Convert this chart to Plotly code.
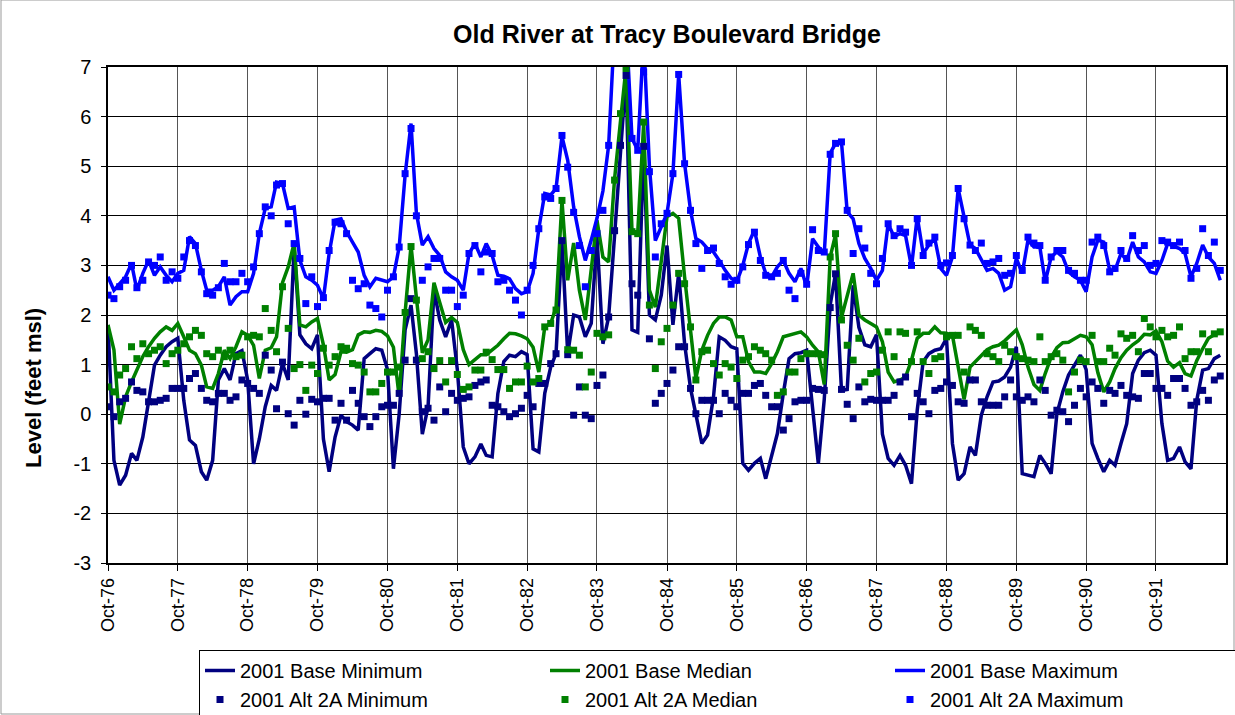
import pandas as pd
import plotly.graph_objects as go

# ---------------- data (monthly, Oct-1976 .. Sep-1992) ----------------
base_max = [
    2.77, 2.50, 2.63, 2.77, 3.04, 2.50, 2.84, 3.10, 2.80, 2.97, 2.80, 2.67,
    2.84, 2.90, 3.58, 3.44, 2.90, 2.50, 2.50, 2.57, 2.77, 2.20, 2.37, 2.47,
    2.47, 2.84, 3.64, 4.15, 4.18, 4.68, 4.65, 4.15, 4.18, 3.10, 2.77, 2.70,
    2.60, 2.33, 3.24, 3.91, 3.94, 3.68, 3.47, 3.27, 2.80, 2.57, 2.74, 2.70,
    2.67, 2.77, 3.37, 4.82, 5.86, 4.05, 3.41, 3.58, 3.34, 3.20, 2.87, 2.77,
    2.70, 2.50, 3.24, 3.44, 3.17, 3.44, 3.20, 2.80, 2.78, 2.73, 2.53, 2.43,
    2.47, 2.84, 3.74, 4.45, 4.42, 4.55, 5.60, 5.12, 4.18, 3.58, 3.10, 3.51,
    3.95, 4.50, 5.42, 7.80, 8.50, 7.90, 5.56, 5.32, 7.60, 5.00, 3.50, 3.78,
    4.05, 4.85, 6.85, 5.05, 4.11, 3.54, 3.47, 3.34, 3.27, 3.10, 2.90, 2.74,
    2.67, 3.00, 3.44, 3.71, 3.17, 2.84, 2.77, 2.97, 3.10, 2.84, 2.67, 2.94,
    2.57, 3.54, 3.37, 3.24, 5.26, 5.46, 5.49, 4.08, 3.94, 3.44, 3.14, 2.94,
    2.70, 2.90, 3.84, 3.58, 3.64, 3.60, 2.97, 3.98, 3.24, 3.41, 3.54, 2.94,
    2.80, 3.17, 4.55, 3.98, 3.41, 3.34, 3.10, 2.90, 2.94, 2.84, 2.50, 2.57,
    3.14, 2.84, 3.51, 3.37, 3.37, 2.67, 3.17, 3.27, 3.17, 2.87, 2.77, 2.70,
    2.47, 3.17, 3.51, 3.47, 2.90, 2.90, 3.24, 3.10, 3.47, 3.17, 3.07, 2.87,
    2.84, 3.10, 3.44, 3.39, 3.34, 3.24, 2.77, 3.04, 3.41, 3.17, 3.04, 2.70,
]

alt_max = [
    2.40, 2.33, 2.57, 2.70, 3.00, 2.55, 2.70, 3.07, 3.00, 3.17, 2.70, 2.87,
    2.74, 3.17, 3.50, 3.40, 2.87, 2.43, 2.40, 2.55, 3.04, 2.67, 2.67, 2.84,
    2.67, 2.97, 3.64, 4.18, 4.00, 4.62, 4.65, 3.84, 3.44, 3.14, 2.23, 2.77,
    2.17, 2.35, 3.30, 3.87, 3.84, 3.64, 2.70, 2.53, 2.63, 2.20, 2.13, 1.96,
    2.50, 2.77, 3.37, 4.85, 5.76, 4.00, 2.70, 2.97, 3.14, 3.14, 2.50, 2.50,
    2.17, 2.40, 3.24, 3.40, 2.87, 3.27, 3.24, 2.67, 2.70, 2.50, 2.30, 2.00,
    2.50, 3.00, 3.74, 4.38, 4.35, 4.55, 5.62, 4.98, 4.07, 3.40, 2.57, 3.30,
    3.64, 4.11, 5.42, 7.60, 8.00, 7.50, 5.56, 5.32, 6.90, 4.89, 3.17, 3.84,
    4.05, 4.85, 6.85, 5.05, 4.11, 3.44, 2.94, 3.30, 3.35, 3.04, 2.77, 2.62,
    2.70, 2.97, 3.42, 3.67, 3.10, 2.80, 2.77, 2.84, 3.10, 2.50, 2.33, 2.84,
    2.62, 3.72, 3.30, 3.27, 5.24, 5.46, 5.49, 4.11, 3.24, 3.74, 3.35, 2.84,
    2.63, 3.14, 3.84, 3.60, 3.74, 3.67, 3.00, 3.94, 3.20, 3.45, 3.57, 3.00,
    3.05, 3.20, 4.55, 3.94, 3.41, 3.30, 3.45, 3.04, 3.07, 3.14, 2.80, 2.84,
    3.20, 2.90, 3.57, 3.45, 3.40, 2.70, 3.17, 3.30, 3.30, 2.90, 2.84, 2.70,
    2.70, 3.47, 3.57, 3.40, 2.87, 2.94, 3.30, 3.14, 3.60, 3.30, 3.40, 3.00,
    3.04, 3.50, 3.47, 3.40, 3.47, 3.30, 2.74, 2.94, 3.74, 3.20, 3.47, 2.90,
]

base_min = [
    1.80, -0.93, -1.43, -1.23, -0.79, -0.93, -0.46, 0.28, 0.99, 1.19, 1.36, 1.46,
    1.53, 0.28, -0.52, -0.63, -1.16, -1.33, -0.93, 0.69, 0.92, 0.69, 1.22, 1.28,
    0.69, -1.00, -0.50, 0.15, 0.58, 0.48, 1.02, 0.69, 3.37, 1.60, 1.42, 1.32,
    1.60, -0.50, -1.16, -0.46, -0.02, -0.15, -0.22, -0.32, 1.12, 1.22, 1.32, 1.29,
    0.90, -1.10, 0.00, 1.70, 2.20, 1.22, -0.40, 0.15, 2.50, 1.90, 1.56, 1.90,
    0.90, -0.66, -1.00, -0.86, -0.60, -0.83, -0.86, 0.42, 1.06, 1.19, 1.16, 1.26,
    1.20, -0.70, -0.76, 0.42, 0.95, 1.22, 3.50, 1.22, 2.00, 1.96, 1.56, 1.83,
    3.58, 1.42, 1.96, 3.60, 5.40, 6.85, 1.70, 1.65, 5.40, 2.00, 1.90, 2.40,
    3.40, 1.80, 2.84, 1.42, 0.52, -0.02, -0.59, -0.42, 0.35, 1.56, 1.49, 1.36,
    1.32, -0.99, -1.13, -0.99, -0.89, -1.30, -0.86, -0.39, 0.42, 1.12, 1.22, 1.24,
    1.29, 0.08, -1.00, 0.30, 2.20, 2.84, 0.48, 0.50, 2.60, 1.75, 1.40, 1.36,
    1.60, -0.40, -0.89, -1.03, -0.83, -1.03, -1.40, 0.08, 1.06, 1.22, 1.29, 1.32,
    1.53, -0.59, -1.33, -1.20, -0.66, -0.83, -0.02, 0.35, 0.65, 0.67, 0.75, 0.95,
    1.36, -1.20, -1.23, -1.26, -0.83, -0.99, -1.20, 0.01, 0.45, 0.79, 0.99, 1.19,
    0.90, -0.59, -0.89, -1.16, -0.93, -1.03, -0.59, -0.19, 0.82, 1.09, 1.24, 1.29,
    1.19, -0.19, -0.93, -0.89, -0.66, -0.96, -1.10, 0.28, 0.89, 0.92, 1.12, 1.19,
]

alt_min = [
    0.15, -0.05, 0.25, 0.32, 0.65, 0.48, 0.45, 0.25, 0.25, 0.28, 0.32, 0.52,
    0.52, 0.52, 0.72, 0.82, 0.52, 0.28, 0.25, 0.42, 0.42, 0.28, 0.35, 0.69,
    0.62, 0.52, 0.42, 1.19, 0.89, 0.11, 1.05, 0.01, -0.22, 0.28, 0.00, 0.30,
    0.25, 0.32, 0.32, -0.12, 0.22, -0.12, 0.48, 0.22, -0.05, -0.25, -0.05, 0.15,
    0.18, 0.18, 0.42, 1.09, 2.33, 1.09, 0.05, 0.12, -0.12, 0.55, 0.05, 0.42,
    0.28, 0.32, 0.35, 0.58, 0.65, 0.69, 0.18, 0.15, 0.05, -0.05, 0.01, 0.12,
    0.38, 0.15, 0.62, 0.62, 1.02, 1.22, 3.50, 1.20, -0.02, 0.55, -0.02, -0.09,
    0.58, 0.79, 1.96, 3.70, 5.42, 6.83, 2.63, 2.40, 5.40, 1.52, 0.22, 0.42,
    0.62, 0.89, 1.36, 1.36, 0.52, 0.01, 0.28, 0.28, 0.28, 0.01, 0.42, 0.28,
    0.15, 0.42, 0.42, 0.58, 0.62, 0.38, 0.15, 0.15, -0.32, -0.09, 0.25, 0.28,
    0.28, 0.52, 0.50, 0.48, 2.15, 2.83, 0.50, 0.20, -0.09, 0.55, 0.25, 0.30,
    0.28, 0.28, 0.28, 0.38, 0.65, 0.75, -0.05, 0.42, 0.25, 0.01, 0.48, 0.52,
    0.65, 0.58, 0.25, 0.22, 0.69, 0.69, 0.25, 0.18, 0.18, 0.18, 0.35, 0.69,
    0.35, 0.28, 0.35, 0.25, 0.69, 0.48, -0.02, 0.08, 0.05, -0.15, 0.18, 0.52,
    0.35, 0.65, 0.52, 0.22, 0.48, 0.42, 0.58, 0.38, 0.35, 0.32, 0.82, 0.82,
    0.52, 0.52, 0.38, 0.72, 0.72, 0.52, 0.18, 0.25, 0.48, 0.28, 0.69, 0.77,
]

base_median = [
    1.80, 1.30, -0.20, 0.35, 0.65, 0.89, 1.16, 1.36, 1.53, 1.66, 1.76, 1.69,
    1.83, 1.56, 1.29, 1.22, 0.99, 0.55, 0.52, 0.82, 1.29, 1.12, 1.36, 1.66,
    1.59, 1.39, 0.72, 1.29, 1.34, 1.56, 2.65, 2.97, 3.45, 1.80, 1.76, 1.86,
    1.93, 1.40, 0.69, 0.80, 1.26, 1.25, 1.30, 1.60, 1.66, 1.65, 1.69, 1.67,
    1.58, 1.35, 0.35, 2.05, 3.40, 2.35, 1.24, 1.50, 2.65, 2.25, 1.85, 1.95,
    1.85, 1.30, 1.00, 1.10, 1.20, 1.20, 1.30, 1.39, 1.52, 1.63, 1.62, 1.58,
    1.52, 1.35, 0.85, 1.76, 1.83, 2.15, 4.31, 2.70, 3.45, 2.50, 1.90, 2.90,
    3.91, 3.17, 3.07, 4.75, 5.83, 7.00, 3.70, 3.66, 5.86, 2.50, 2.16, 3.14,
    3.98, 4.05, 3.95, 2.77, 1.76, 0.72, 1.29, 1.59, 1.83, 1.96, 1.96, 1.90,
    1.56, 1.56, 1.06, 0.85, 0.85, 0.82, 1.02, 1.26, 1.56, 1.59, 1.63, 1.66,
    1.56, 1.39, 1.26, 0.60, 3.17, 3.62, 1.95, 2.40, 2.84, 2.00, 1.90, 1.83,
    1.76, 1.46, 0.85, 0.65, 0.69, 0.75, 1.09, 1.53, 1.63, 1.63, 1.76, 1.64,
    1.63, 1.59, 0.95, 0.30, 0.95, 1.06, 1.17, 1.30, 1.36, 1.39, 1.48, 1.60,
    1.70, 1.40, 0.95, 0.60, 0.48, 0.82, 1.15, 1.34, 1.44, 1.45, 1.53, 1.59,
    1.56, 1.40, 0.84, 0.45, 0.65, 0.92, 1.14, 1.29, 1.40, 1.48, 1.61, 1.60,
    1.68, 1.46, 1.07, 0.95, 1.04, 0.82, 0.77, 1.08, 1.32, 1.53, 1.60, 1.65,
]

alt_median = [
    0.55, 0.45, 0.79, 0.92, 1.36, 1.12, 1.42, 1.22, 1.29, 1.36, 1.02, 1.22,
    1.29, 1.42, 1.56, 1.69, 1.59, 1.22, 1.16, 1.29, 1.16, 1.29, 1.16, 1.19,
    1.56, 1.59, 1.56, 2.13, 1.69, 1.26, 2.57, 1.73, 0.92, 1.00, 0.48, 0.99,
    0.82, 1.33, 0.99, 1.16, 1.36, 1.33, 1.02, 0.99, 0.85, 0.45, 0.45, 0.62,
    0.85, 0.85, 0.95, 2.05, 3.38, 2.30, 1.12, 1.26, 0.92, 1.08, 0.65, 1.08,
    0.80, 0.50, 0.55, 0.89, 0.89, 1.25, 1.10, 0.90, 0.90, 0.52, 0.65, 0.65,
    0.97, 0.65, 0.72, 1.76, 1.83, 2.10, 4.31, 1.30, 1.29, 1.19, 0.55, 0.85,
    1.63, 1.56, 1.60, 4.72, 6.06, 6.97, 3.68, 3.64, 5.89, 2.20, 0.92, 1.46,
    1.73, 2.20, 2.84, 2.63, 1.76, 0.69, 1.26, 1.29, 1.02, 0.79, 1.02, 0.95,
    0.72, 1.09, 1.16, 1.36, 1.29, 1.22, 1.09, 0.38, 0.45, 0.85, 0.85, 1.12,
    1.22, 1.22, 1.22, 1.20, 3.17, 3.64, 1.90, 1.39, 1.09, 1.53, 0.65, 0.82,
    0.85, 1.29, 1.66, 1.16, 1.66, 1.63, 1.06, 1.66, 1.06, 0.82, 1.12, 1.16,
    1.56, 1.59, 1.59, 0.85, 1.76, 1.69, 1.59, 1.22, 1.16, 1.06, 1.39, 1.26,
    1.16, 1.12, 1.09, 1.06, 1.56, 1.06, 1.16, 1.22, 1.09, 0.45, 0.85, 1.09,
    1.06, 1.59, 1.06, 1.06, 1.33, 1.19, 1.62, 1.53, 1.59, 1.26, 1.93, 1.76,
    1.56, 1.69, 1.56, 1.59, 1.76, 1.12, 1.26, 1.26, 1.62, 1.26, 1.62, 1.66,
]

tick_labels = ["Oct-76", "Oct-77", "Oct-78", "Oct-79", "Oct-80", "Oct-81",
               "Oct-82", "Oct-83", "Oct-84", "Oct-85", "Oct-86", "Oct-87",
               "Oct-88", "Oct-89", "Oct-90", "Oct-91"]
y_ticks = [-3, -2, -1, 0, 1, 2, 3, 4, 5, 6, 7]
y_tick_text = ["-3", "-2", "-1", "0", "1", "2", "3", "4", "5", "6", "7"]

months = pd.date_range("1976-10-01", periods=len(base_max), freq="MS")
tick_dates = pd.to_datetime(["19" + t[-2:] + "-10-01" for t in tick_labels])

NAVY, GREEN, BLUE = "#000080", "#008000", "#0000FF"
FONT = "Liberation Sans, Arial, sans-serif"
LW, MS = 3.5, 7

fig = go.Figure()
fig.add_trace(go.Scatter(x=months, y=base_min, mode="lines", name="2001 Base Minimum",
                         line=dict(color=NAVY, width=LW)))
fig.add_trace(go.Scatter(x=months, y=base_median, mode="lines", name="2001 Base Median",
                         line=dict(color=GREEN, width=LW)))
fig.add_trace(go.Scatter(x=months, y=base_max, mode="lines", name="2001 Base Maximum",
                         line=dict(color=BLUE, width=LW)))
fig.add_trace(go.Scatter(x=months, y=alt_min, mode="markers", name="2001 Alt 2A Minimum",
                         marker=dict(color=NAVY, symbol="square", size=MS, line=dict(width=0))))
fig.add_trace(go.Scatter(x=months, y=alt_median, mode="markers", name="2001 Alt 2A Median",
                         marker=dict(color=GREEN, symbol="square", size=MS, line=dict(width=0))))
fig.add_trace(go.Scatter(x=months, y=alt_max, mode="markers", name="2001 Alt 2A Maximum",
                         marker=dict(color=BLUE, symbol="square", size=MS, line=dict(width=0))))

W, H = 1235, 715
L, R, T, B = 108, 9, 67, 152
pw, ph = W - L - R, H - T - B

def px_x(p):
    return (p - L) / pw

def px_y(p):
    return (H - B - p) / ph

fig.update_layout(
    width=W, height=H,
    margin=dict(l=L, r=R, t=T, b=B, autoexpand=False),
    paper_bgcolor="white", plot_bgcolor="white",
    font=dict(family=FONT, color="black", size=20),
    title=dict(text="<b>Old River at Tracy Boulevard Bridge</b>",
               x=0.5, xref="paper", xanchor="center",
               y=1 - 34 / H, yref="container", yanchor="middle",
               font=dict(family=FONT, size=25, color="black")),
    showlegend=True,
    legend=dict(orientation="h", x=px_x(199), y=px_y(650), xanchor="left", yanchor="top",
                entrywidth=300, entrywidthmode="pixels",
                font=dict(family=FONT, size=20, color="black"),
                bordercolor="black", borderwidth=1, bgcolor="white",
                tracegroupgap=0, traceorder="normal"),
    xaxis=dict(type="date", range=[months[0], pd.Timestamp("1992-10-01")],
               tickvals=tick_dates, ticktext=tick_labels, tickangle=-90,
               showgrid=True, gridcolor="#555555", gridwidth=1,
               ticks="outside", ticklen=6, tickcolor="black",
               showline=True, linecolor="black", linewidth=1.5, mirror=True,
               zeroline=False, tickfont=dict(size=18)),
    yaxis=dict(range=[-3, 7], tickvals=y_ticks, ticktext=y_tick_text,
               showgrid=True, gridcolor="black", gridwidth=1,
               ticks="outside", ticklen=5, tickcolor="black",
               ticklabelstandoff=6,
               showline=True, linecolor="black", linewidth=1.5, mirror=True,
               zeroline=False, tickfont=dict(size=20)),
    annotations=[dict(text="<b>Level (feet msl)</b>", textangle=-90,
                      x=px_x(33), y=px_y(388), xref="paper", yref="paper",
                      xanchor="center", yanchor="middle", showarrow=False,
                      font=dict(family=FONT, size=22, color="black"))],
    shapes=[dict(type="rect", xref="paper", yref="paper",
                 x0=px_x(1), x1=px_x(1234), y0=px_y(714), y1=px_y(0),
                 line=dict(color="#999999", width=1))],
)

fig.write_html("out.html",
               config={"displayModeBar": False},
               post_script="document.body.style.margin='0px';"
                           "document.body.style.overflow='hidden';")
